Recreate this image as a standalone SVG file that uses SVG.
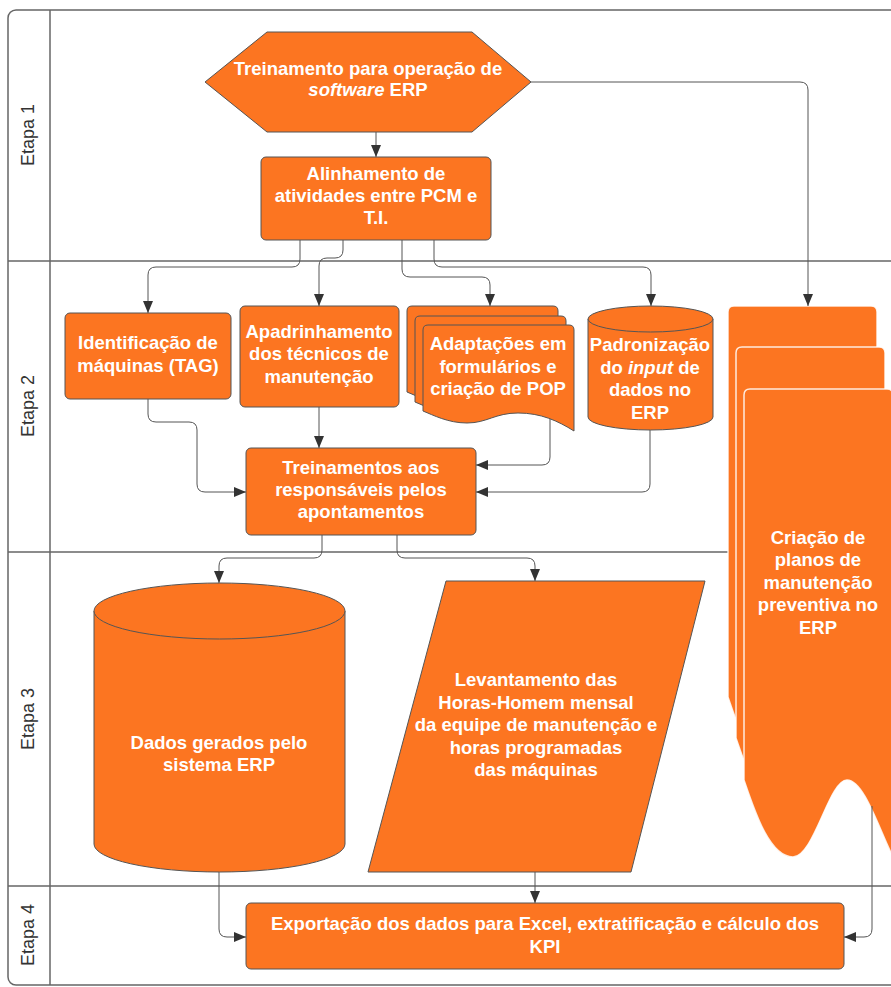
<svg xmlns="http://www.w3.org/2000/svg" width="891" height="987" viewBox="0 0 891 987">
<style>
.pool{fill:none;stroke:#666;stroke-width:1.5}
.lane{font-family:"Liberation Sans",Arial,sans-serif;font-size:18px;fill:#333;text-anchor:middle;dominant-baseline:central}
.n{fill:#fc7521;stroke:#555;stroke-width:1;stroke-linejoin:round}
.nw{fill:#fc7521;stroke:#fff;stroke-opacity:0.85;stroke-width:1.5}
.t{font-family:"Liberation Sans",Arial,sans-serif;font-size:18.5px;font-weight:bold;fill:#fff;text-anchor:middle}
.c{fill:none;stroke:#555;stroke-width:1;marker-end:url(#ah)}
</style>
<defs>
<marker id="ah" markerUnits="userSpaceOnUse" viewBox="0 0 12 10" refX="12" refY="5" markerWidth="12" markerHeight="10" orient="auto">
<path d="M0,0 L12,5 L0,10 z" fill="#333"/>
</marker>
<path id="docA" d="M0,5 Q0,0 5,0 L146,0 Q151,0 151,5 L151,106 C135,96 118,88 95,88 C72,88 64,98 44,98 C25,98 10,90 0,86 Z"/>
<path id="docB" d="M0,6 Q0,0 6,0 L143,0 Q149,0 149,6 L149,468 C135,440 120,391 103,391 C85,391 70,468 49,468 C25,468 10,420 0,391 Z"/>
</defs>

<g id="pool">
<rect class="pool" x="8" y="10" width="900" height="975" rx="8"/>
<line class="pool" x1="50" y1="10" x2="50" y2="985"/>
<line class="pool" x1="8" y1="261" x2="891" y2="261"/>
<line class="pool" x1="8" y1="552" x2="891" y2="552"/>
<line class="pool" x1="8" y1="886" x2="891" y2="886"/>
<text class="lane" x="28" y="135" transform="rotate(-90 28 135)">Etapa 1</text>
<text class="lane" x="28" y="406" transform="rotate(-90 28 406)">Etapa 2</text>
<text class="lane" x="28" y="719" transform="rotate(-90 28 719)">Etapa 3</text>
<text class="lane" x="28" y="935" transform="rotate(-90 28 935)">Etapa 4</text>
</g>

<g id="n-criacao">
<use href="#docB" class="nw" x="728" y="306"/>
<use href="#docB" class="nw" x="736" y="347"/>
<use href="#docB" class="nw" x="744" y="389"/>
<text class="t" x="818"><tspan x="818" y="544">Criação de</tspan><tspan x="818" y="566">planos de</tspan><tspan x="818" y="589">manutenção</tspan><tspan x="818" y="611">preventiva no</tspan><tspan x="818" y="634">ERP</tspan></text>
</g>

<g id="connectors">
<path class="c" d="M531,82 L800,82 Q808,82 808,90 L808,306"/>
<path class="c" d="M376,132 L376,157"/>
<path class="c" d="M300,240 L300,259 Q300,267 292,267 L156,267 Q148,267 148,275 L148,313"/>
<path class="c" d="M343,240 L343,250 Q343,258 335,258 L327,258 Q319,258 319,266 L319,306"/>
<path class="c" d="M402,240 L402,269 Q402,277 410,277 L482,277 Q490,277 490,285 L490,306"/>
<path class="c" d="M434,240 L434,259 Q434,267 442,267 L643,267 Q651,267 651,275 L651,306"/>
<path class="c" d="M148,399 L148,414 Q148,422 156,422 L189,422 Q197,422 197,430 L197,484 Q197,492 205,492 L246,492"/>
<path class="c" d="M319,407 L319,448"/>
<path class="c" d="M550,418 L550,457 Q550,465 542,465 L476,465"/>
<path class="c" d="M650,430 L650,484 Q650,492 642,492 L476,492"/>
<path class="c" d="M322,535 L322,550 Q322,558 314,558 L227,558 Q219,558 219,566 L219,583"/>
<path class="c" d="M397,535 L397,550 Q397,558 405,558 L527,558 Q535,558 535,566 L535,581"/>
<path class="c" d="M219,872 L219,929 Q219,937 227,937 L246,937"/>
<path class="c" d="M535,872 L535,903"/>
<path class="c" d="M872,806 L872,929 Q872,937 864,937 L844,937"/>
</g>

<g id="n-treinamento">
<path class="n" d="M205,82 L267,32 L472,32 L531,82 L472,132 L267,132 Z"/>
<text class="t" x="368"><tspan x="368" y="75">Treinamento para operação de</tspan><tspan x="368" y="96"><tspan font-style="italic">software</tspan> ERP</tspan></text>
</g>

<g id="n-alinhamento">
<rect class="n" x="261" y="157" width="230" height="83" rx="5"/>
<text class="t" x="376"><tspan x="376" y="180">Alinhamento de</tspan><tspan x="376" y="202">atividades entre PCM e</tspan><tspan x="376" y="224">T.I.</tspan></text>
</g>

<g id="n-identificacao">
<rect class="n" x="65" y="313" width="166" height="86" rx="5"/>
<text class="t" x="148"><tspan x="148" y="349">Identificação de</tspan><tspan x="148" y="372">máquinas (TAG)</tspan></text>
</g>

<g id="n-apadrinhamento">
<rect class="n" x="240" y="306" width="159" height="101" rx="5"/>
<text class="t" x="319"><tspan x="319" y="338">Apadrinhamento</tspan><tspan x="319" y="360">dos técnicos de</tspan><tspan x="319" y="383">manutenção</tspan></text>
</g>

<g id="n-adaptacoes">
<use href="#docA" class="n" x="407" y="306"/>
<use href="#docA" class="n" x="415" y="316"/>
<use href="#docA" class="n" x="423" y="325"/>
<text class="t" x="498"><tspan x="498" y="350">Adaptações em</tspan><tspan x="498" y="373">formulários e</tspan><tspan x="498" y="395">criação de POP</tspan></text>
</g>

<g id="n-padronizacao">
<path class="n" d="M588,319 A62.5,13 0 0 1 713,319 L713,417 A62.5,13 0 0 1 588,417 Z"/>
<path class="n" fill="none" d="M588,319 A62.5,13 0 0 0 713,319"/>
<text class="t" x="650"><tspan x="650" y="351">Padronização</tspan><tspan x="650" y="374">do <tspan font-style="italic">input</tspan> de</tspan><tspan x="650" y="396">dados no</tspan><tspan x="650" y="419">ERP</tspan></text>
</g>

<g id="n-treinamentos">
<rect class="n" x="246" y="448" width="230" height="87" rx="5"/>
<text class="t" x="361"><tspan x="361" y="474">Treinamentos aos</tspan><tspan x="361" y="496">responsáveis pelos</tspan><tspan x="361" y="518">apontamentos</tspan></text>
</g>

<g id="n-dados">
<path class="n" d="M94,611 A125.5,28 0 0 1 345,611 L345,844 A125.5,28 0 0 1 94,844 Z"/>
<path class="n" fill="none" d="M94,611 A125.5,28 0 0 0 345,611"/>
<text class="t" x="219"><tspan x="219" y="749">Dados gerados pelo</tspan><tspan x="219" y="771">sistema ERP</tspan></text>
</g>

<g id="n-levantamento">
<path class="n" d="M446,581 L705,581 L631,872 L368,872 Z"/>
<text class="t" x="536"><tspan x="536" y="686">Levantamento das</tspan><tspan x="536" y="709">Horas-Homem mensal</tspan><tspan x="536" y="731">da equipe de manutenção e</tspan><tspan x="536" y="754">horas programadas</tspan><tspan x="536" y="776">das máquinas</tspan></text>
</g>

<g id="n-exportacao">
<rect class="n" x="246" y="903" width="598" height="66" rx="5"/>
<text class="t" x="545"><tspan x="545" y="930">Exportação dos dados para Excel, extratificação e cálculo dos</tspan><tspan x="545" y="953">KPI</tspan></text>
</g>
</svg>
